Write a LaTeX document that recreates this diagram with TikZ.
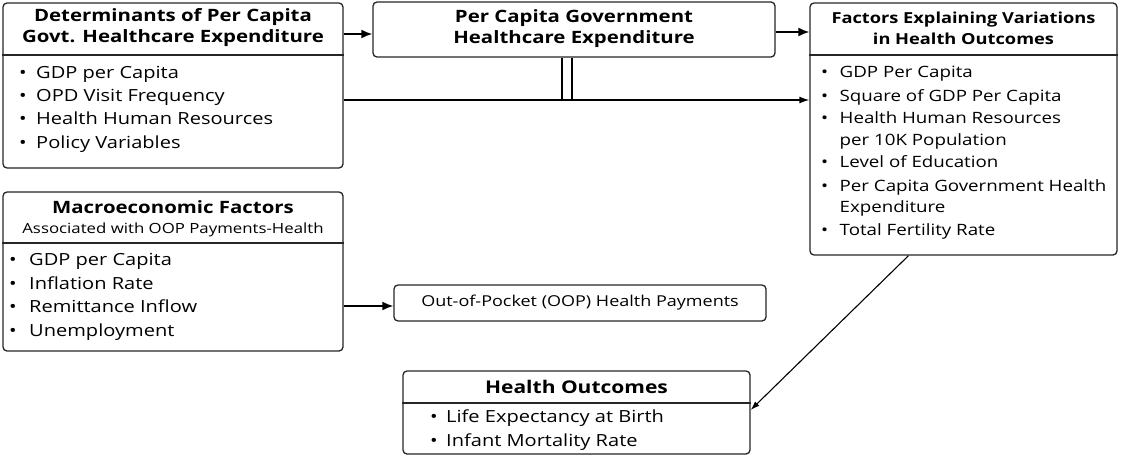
\documentclass[tikz,border=0pt]{standalone}
\usepackage{fontspec}
\setmainfont{Open Sans}[FakeStretch=1.2]
\usetikzlibrary{arrows.meta,calc}
\begin{document}
\begin{tikzpicture}[x=1pt,y=-1pt,
  box/.style={draw=black!85,line width=1.3pt,rounded corners=4pt,inner sep=0pt,fill=white},
  hdr/.style={font=\fontsize{17}{21}\selectfont\bfseries,align=center,inner sep=0pt},
  sub/.style={font=\fontsize{14}{16}\selectfont,inner sep=0pt},
  itm/.style={font=\fontsize{16.7}{19}\selectfont,anchor=base west,inner sep=0pt,yshift=-6pt},
  itmc/.style={font=\fontsize{15.6}{19}\selectfont,anchor=base west,inner sep=0pt,yshift=-5.5pt},
  divl/.style={line width=1.1pt,black!85},
  thick arrow/.style={line width=1.8pt,-{Latex[length=11pt,width=9pt]}},
  thin arrow/.style={line width=1.3pt,-{Latex[length=10pt,width=7pt]}},
  thin line/.style={line width=1.2pt}]
\useasboundingbox (0,0) rectangle (1121,455);

% boxes
\node[box,minimum width=340pt,minimum height=165pt] (b1) at (173,85.5) {};
\node[box,minimum width=402pt,minimum height=55pt] (b2) at (574,29.5) {};
\node[box,minimum width=307pt,minimum height=252pt] (b3) at (963.5,129) {};
\node[box,minimum width=340pt,minimum height=159pt] (b4) at (173,271.5) {};
\node[box,minimum width=372pt,minimum height=36pt] (b5) at (580,303) {};
\node[box,minimum width=347pt,minimum height=83pt] (b6) at (576.5,412.5) {};

% dividers
\draw[divl] (b1.west |- 0,55) -- (b1.east |- 0,55);
\draw[divl] (b3.west |- 0,55) -- (b3.east |- 0,55);
\draw[divl] (b4.west |- 0,243) -- (b4.east |- 0,243);
\draw[divl] (b6.west |- 0,403) -- (b6.east |- 0,403);

% box 1
\node[hdr] (h1) at (173,28) {Determinants of Per Capita\\Govt. Healthcare Expenditure};
\foreach \t/\y [count=\i] in {GDP per Capita/72,OPD Visit Frequency/95,Health Human Resources/118,Policy Variables/142}{
  \node[itm] (b1b\i) at (19,\y) {\textbullet};
  \node[itm] (b1i\i) at (36,\y) {\t};
}

% box 2
\node[hdr] (h2) at (574,29) {Per Capita Government\\Healthcare Expenditure};

% box 3
\node[hdr,font=\fontsize{15.2}{21}\selectfont\bfseries] (h3) at (963.5,28) {Factors Explaining Variations\\in Health Outcomes};
\foreach \t/\y [count=\i] in {GDP Per Capita/72,Square of GDP Per Capita/96,Health Human Resources/118,Level of Education/162,Per Capita Government Health/186,Total Fertility Rate/230}{
  \node[itmc] (b3b\i) at (821,\y) {\textbullet};
  \node[itmc] (b3i\i) at (839.5,\y) {\t};
}
\node[itmc] (b3c1) at (839.5,140) {per 10K Population};
\node[itmc] (b3c2) at (839.5,207) {Expenditure};

% box 4
\node[hdr] (h4a) at (173,207) {Macroeconomic Factors};
\node[sub] (h4b) at (173,230) {Associated with OOP Payments-Health};
\foreach \t/\y [count=\i] in {GDP per Capita/259,Inflation Rate/283,Remittance Inflow/306,Unemployment/330}{
  \node[itm] (b4b\i) at (9,\y) {\textbullet};
  \node[itm] (b4i\i) at (29,\y) {\t};
}

% box 5
\node[font=\fontsize{15}{17}\selectfont,inner sep=0pt] (t5) at (580,303) {Out-of-Pocket (OOP) Health Payments};

% box 6
\node[hdr,font=\fontsize{17.5}{21}\selectfont\bfseries] (h6) at (576.5,387) {Health Outcomes};
\foreach \t/\y [count=\i] in {Life Expectancy at Birth/416,Infant Mortality Rate/440}{
  \node[itm] (b6b\i) at (430,\y) {\textbullet};
  \node[itm] (b6i\i) at (446,\y) {\t};
}

% connectors
\draw[thick arrow] (b1.east |- 0,34) -- (b2.west |- 0,34);
\draw[thick arrow] (b2.east |- 0,32) -- (b3.west |- 0,32);
\coordinate (j1) at (562,100);
\coordinate (j2) at (572,100);
\draw[thin arrow] (b1.east |- 0,100) -- (b3.west |- 0,100);
\draw[thin line] (b2.south -| j1) -- (j1);
\draw[thin line] (b2.south -| j2) -- (j2);
\draw[thick arrow] (b4.east |- 0,306) -- (b5.west |- 0,306);
\coordinate (d1) at ($(b3.south)+(-55,0)$);
\draw[line width=1.1pt,-{Latex[length=9pt,width=6pt]}] (d1) -- (b6.east |- 0,410);
\end{tikzpicture}
\end{document}
